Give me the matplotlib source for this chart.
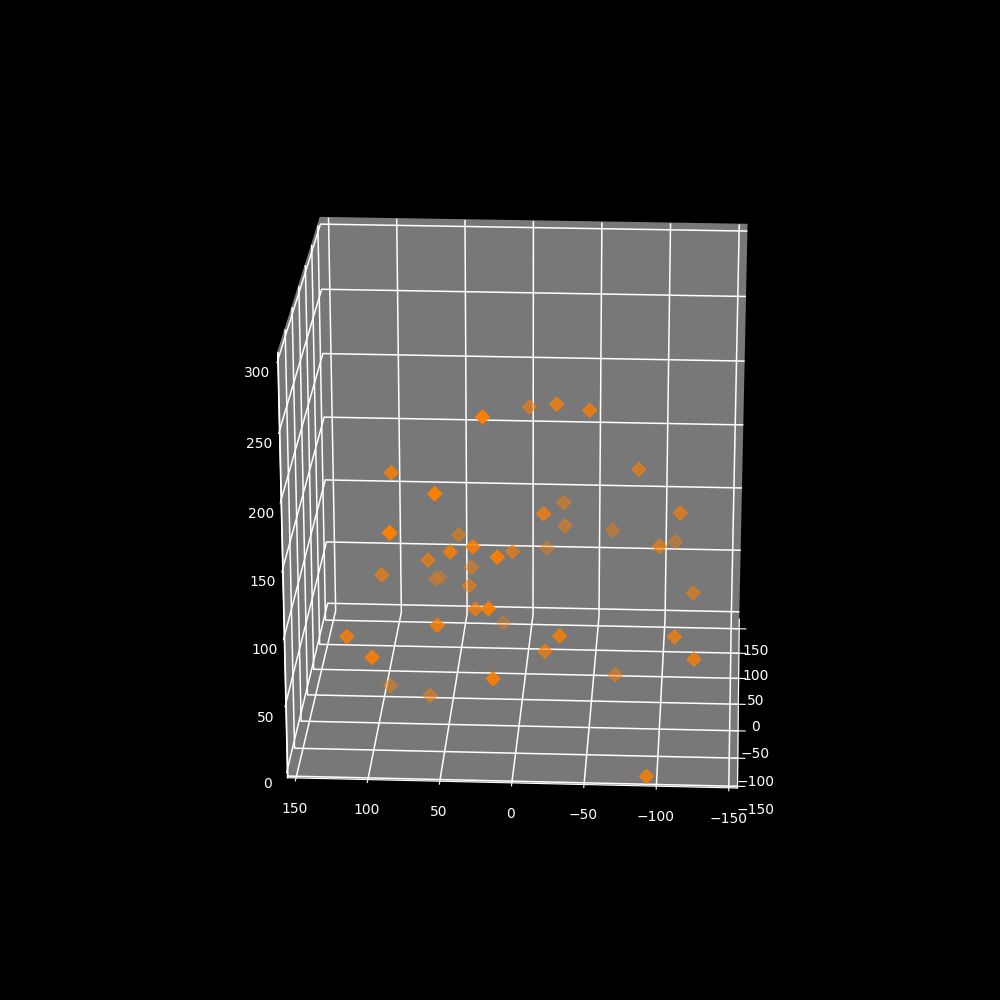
import matplotlib
matplotlib.use("Agg")
import matplotlib.pyplot as plt

plt.style.use("dark_background")

# values
x_vals = [-107, 43, -21, -21, -64, -150, 21, 64, -43, 0, 64, 86, -150, -107, 43, 86, -21, 86, -107, 0, -86, -129,
          -21, 43, -21, 86, 107, 0, 21, -150, -64, -107, 86, -107, -150, 4, -13, -150, -107, -64, -64, -86, 0, -150]
y_vals = [22, -3, -25, -48, 88, 52, -82, -27, -17, -112, -28, -62, 83, 86, 48, -108, -98, -14, 29, 7, 46, 11,
          66, 39, 99, 68, 66, 38, -122, 16, 30, 54, 18, 117, 96, 96, 66, 13, -31, -19, -110, -124, -67, -93]
z_vals = [247, 204, 228, 224, 190, 206, 166, 124, 154, 141, 106, 95, 177, 161, 105, 87, 123, 80, 152, 109, 140, 153,
          109, 80, 97, 54, 47, 82, 72, 123, 89, 93, 20, 83, 85, 1, 1, 71, 87, 58, 71, 63, 15, 0]

PANE = (0.47, 0.47, 0.47, 1.0)

fig = plt.figure(figsize=(10, 10), dpi=100)
ax = fig.add_subplot(projection="3d")
ax.scatter(x_vals, y_vals, z_vals, c="#ff7f00", marker="D", s=50)
ax.set_xlim(-153, 170)
ax.set_ylim(-156, 156)
ax.set_zlim(-6, 305)
ax.set_box_aspect((285, 304, 305), zoom=0.94)
ax.view_init(elev=21.8, azim=183)
for axis in (ax.xaxis, ax.yaxis, ax.zaxis):
    axis.set_pane_color(PANE)
    axis._axinfo["grid"]["color"] = "white"
    axis._axinfo["grid"]["linewidth"] = 1.1
fig.savefig("out.png", dpi=100)
